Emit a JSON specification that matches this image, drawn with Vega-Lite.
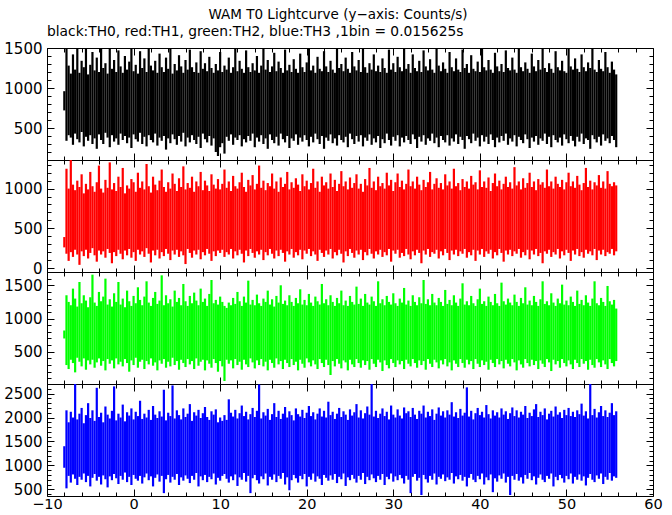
{
"$schema": "https://vega.github.io/schema/vega-lite/v6.json",
"background": "white",
"padding": {"left": 3, "top": 7, "right": 8, "bottom": 0},
"title": {"text": "WAM T0 Lightcurve (y−axis: Counts/s)", "anchor": "middle", "font": "DejaVu Sans", "fontSize": 13.5, "fontWeight": "normal", "color": "black", "offset": 4, "dx": 5},
"data": {"values": [
{"t":-8,"k0":720,"k1":960,"r0":260,"r1":390,"g0":700,"g1":820,"b0":950,"b1":1400},
{"t":-7.75,"k0":340,"k1":1500,"r0":180,"r1":1250,"g0":300,"g1":1350,"b0":520,"b1":2150},
{"t":-7.5,"k0":410,"k1":1280,"r0":90,"r1":1000,"g0":240,"g1":1250,"b0":780,"b1":1900},
{"t":-7.25,"k0":380,"k1":1180,"r0":200,"r1":1360,"g0":380,"g1":1200,"b0":640,"b1":2120},
{"t":-7,"k0":290,"k1":1420,"r0":140,"r1":1050,"g0":330,"g1":1450,"b0":810,"b1":2000},
{"t":-6.75,"k0":430,"k1":1230,"r0":230,"r1":980,"g0":190,"g1":1300,"b0":720,"b1":2700},
{"t":-6.5,"k0":360,"k1":1510,"r0":170,"r1":1100,"g0":410,"g1":1180,"b0":590,"b1":1960},
{"t":-6.25,"k0":320,"k1":1190,"r0":40,"r1":1020,"g0":350,"g1":1550,"b0":760,"b1":2080},
{"t":-6,"k0":450,"k1":1340,"r0":210,"r1":1180,"g0":280,"g1":1230,"b0":700,"b1":2200},
{"t":-5.75,"k0":270,"k1":1260,"r0":150,"r1":940,"g0":400,"g1":1350,"b0":830,"b1":1880},
{"t":-5.5,"k0":390,"k1":1500,"r0":230,"r1":1060,"g0":230,"g1":1270,"b0":650,"b1":2050},
{"t":-5.25,"k0":340,"k1":1170,"r0":120,"r1":990,"g0":370,"g1":1170,"b0":780,"b1":2300},
{"t":-5,"k0":410,"k1":1290,"r0":190,"r1":1210,"g0":310,"g1":1320,"b0":560,"b1":1990},
{"t":-4.75,"k0":300,"k1":1450,"r0":250,"r1":1030,"g0":380,"g1":1660,"b0":740,"b1":2150},
{"t":-4.5,"k0":370,"k1":1220,"r0":160,"r1":960,"g0":260,"g1":1240,"b0":820,"b1":1930},
{"t":-4.25,"k0":240,"k1":1380,"r0":80,"r1":1080,"g0":340,"g1":1190,"b0":680,"b1":2620},
{"t":-4,"k0":420,"k1":1200,"r0":220,"r1":1290,"g0":400,"g1":1400,"b0":760,"b1":2010},
{"t":-3.75,"k0":350,"k1":1500,"r0":170,"r1":1000,"g0":290,"g1":1260,"b0":600,"b1":2100},
{"t":-3.5,"k0":300,"k1":1250,"r0":210,"r1":950,"g0":360,"g1":1330,"b0":790,"b1":1900},
{"t":-3.25,"k0":440,"k1":1310,"r0":130,"r1":1110,"g0":220,"g1":1600,"b0":710,"b1":2230},
{"t":-3,"k0":380,"k1":1180,"r0":240,"r1":1010,"g0":390,"g1":1210,"b0":540,"b1":2060},
{"t":-2.75,"k0":260,"k1":1520,"r0":190,"r1":1330,"g0":320,"g1":1290,"b0":770,"b1":1980},
{"t":-2.5,"k0":410,"k1":1240,"r0":60,"r1":990,"g0":370,"g1":1180,"b0":690,"b1":2140},
{"t":-2.25,"k0":330,"k1":1350,"r0":200,"r1":1070,"g0":250,"g1":1380,"b0":820,"b1":2650},
{"t":-2,"k0":370,"k1":1200,"r0":150,"r1":970,"g0":400,"g1":1250,"b0":730,"b1":1940},
{"t":-1.75,"k0":290,"k1":1470,"r0":230,"r1":1150,"g0":310,"g1":1550,"b0":610,"b1":2080},
{"t":-1.5,"k0":430,"k1":1270,"r0":180,"r1":1020,"g0":350,"g1":1210,"b0":780,"b1":2000},
{"t":-1.25,"k0":350,"k1":1190,"r0":110,"r1":1260,"g0":280,"g1":1300,"b0":700,"b1":2270},
{"t":-1,"k0":400,"k1":1400,"r0":220,"r1":940,"g0":390,"g1":1170,"b0":850,"b1":1920},
{"t":-0.75,"k0":310,"k1":1230,"r0":160,"r1":1040,"g0":330,"g1":1420,"b0":650,"b1":2110},
{"t":-0.5,"k0":380,"k1":1330,"r0":240,"r1":1000,"g0":200,"g1":1260,"b0":760,"b1":2040},
{"t":-0.25,"k0":250,"k1":1500,"r0":130,"r1":1120,"g0":370,"g1":1190,"b0":590,"b1":2190},
{"t":0,"k0":420,"k1":1210,"r0":200,"r1":1080,"g0":300,"g1":1340,"b0":800,"b1":1960},
{"t":0.25,"k0":360,"k1":1290,"r0":90,"r1":960,"g0":410,"g1":1230,"b0":720,"b1":2120},
{"t":0.5,"k0":330,"k1":1180,"r0":230,"r1":1200,"g0":260,"g1":1470,"b0":680,"b1":2030},
{"t":0.75,"k0":440,"k1":1460,"r0":170,"r1":1010,"g0":350,"g1":1280,"b0":780,"b1":2350},
{"t":1,"k0":300,"k1":1250,"r0":210,"r1":1090,"g0":380,"g1":1200,"b0":620,"b1":1970},
{"t":1.25,"k0":390,"k1":1370,"r0":140,"r1":990,"g0":240,"g1":1330,"b0":750,"b1":2080},
{"t":1.5,"k0":270,"k1":1200,"r0":250,"r1":1310,"g0":360,"g1":1560,"b0":830,"b1":2000},
{"t":1.75,"k0":410,"k1":1500,"r0":180,"r1":1030,"g0":310,"g1":1240,"b0":690,"b1":2160},
{"t":2,"k0":350,"k1":1280,"r0":70,"r1":950,"g0":400,"g1":1190,"b0":770,"b1":1950},
{"t":2.25,"k0":320,"k1":1220,"r0":220,"r1":1150,"g0":290,"g1":1310,"b0":560,"b1":2240},
{"t":2.5,"k0":430,"k1":1340,"r0":160,"r1":1050,"g0":340,"g1":1400,"b0":740,"b1":2060},
{"t":2.75,"k0":280,"k1":1190,"r0":230,"r1":980,"g0":220,"g1":1220,"b0":810,"b1":1990},
{"t":3,"k0":380,"k1":1430,"r0":120,"r1":1100,"g0":370,"g1":1270,"b0":660,"b1":2130},
{"t":3.25,"k0":340,"k1":1260,"r0":200,"r1":1240,"g0":320,"g1":1650,"b0":780,"b1":2020},
{"t":3.5,"k0":400,"k1":1200,"r0":150,"r1":1020,"g0":390,"g1":1200,"b0":420,"b1":2580},
{"t":3.75,"k0":230,"k1":1380,"r0":240,"r1":960,"g0":260,"g1":1350,"b0":710,"b1":1940},
{"t":4,"k0":370,"k1":1240,"r0":180,"r1":1080,"g0":350,"g1":1230,"b0":800,"b1":2100},
{"t":4.25,"k0":310,"k1":1500,"r0":100,"r1":1000,"g0":280,"g1":1290,"b0":640,"b1":2030},
{"t":4.5,"k0":420,"k1":1180,"r0":220,"r1":1190,"g0":410,"g1":1180,"b0":760,"b1":2670},
{"t":4.75,"k0":360,"k1":1300,"r0":170,"r1":1060,"g0":300,"g1":1420,"b0":700,"b1":1980},
{"t":5,"k0":290,"k1":1220,"r0":230,"r1":970,"g0":360,"g1":1250,"b0":820,"b1":2150},
{"t":5.25,"k0":400,"k1":1410,"r0":140,"r1":1130,"g0":230,"g1":1310,"b0":590,"b1":2050},
{"t":5.5,"k0":330,"k1":1270,"r0":210,"r1":1020,"g0":380,"g1":1200,"b0":750,"b1":1960},
{"t":5.75,"k0":440,"k1":1190,"r0":160,"r1":1280,"g0":330,"g1":1520,"b0":680,"b1":2190},
{"t":6,"k0":270,"k1":1350,"r0":50,"r1":990,"g0":270,"g1":1260,"b0":790,"b1":2010},
{"t":6.25,"k0":380,"k1":1230,"r0":240,"r1":1070,"g0":390,"g1":1190,"b0":720,"b1":2080},
{"t":6.5,"k0":320,"k1":1480,"r0":190,"r1":1010,"g0":310,"g1":1340,"b0":630,"b1":2280},
{"t":6.75,"k0":410,"k1":1260,"r0":130,"r1":1150,"g0":360,"g1":1230,"b0":780,"b1":1930},
{"t":7,"k0":350,"k1":1200,"r0":220,"r1":960,"g0":240,"g1":1390,"b0":700,"b1":2110},
{"t":7.25,"k0":300,"k1":1320,"r0":170,"r1":1090,"g0":400,"g1":1270,"b0":840,"b1":2040},
{"t":7.5,"k0":390,"k1":1190,"r0":230,"r1":1030,"g0":290,"g1":1200,"b0":560,"b1":2160},
{"t":7.75,"k0":250,"k1":1460,"r0":110,"r1":1210,"g0":350,"g1":1450,"b0":770,"b1":1990},
{"t":8,"k0":430,"k1":1240,"r0":200,"r1":980,"g0":380,"g1":1250,"b0":690,"b1":2090},
{"t":8.25,"k0":360,"k1":1310,"r0":160,"r1":1100,"g0":220,"g1":1300,"b0":800,"b1":2220},
{"t":8.5,"k0":320,"k1":1210,"r0":240,"r1":1040,"g0":370,"g1":1190,"b0":650,"b1":2010},
{"t":8.75,"k0":400,"k1":1390,"r0":180,"r1":970,"g0":320,"g1":1370,"b0":760,"b1":1950},
{"t":9,"k0":280,"k1":1250,"r0":90,"r1":1180,"g0":260,"g1":1580,"b0":710,"b1":2130},
{"t":9.25,"k0":370,"k1":1190,"r0":210,"r1":1050,"g0":390,"g1":1230,"b0":830,"b1":2060},
{"t":9.5,"k0":200,"k1":1300,"r0":150,"r1":1000,"g0":330,"g1":1280,"b0":600,"b1":2170},
{"t":9.75,"k0":150,"k1":1220,"r0":220,"r1":1120,"g0":200,"g1":1210,"b0":740,"b1":1900},
{"t":10,"k0":260,"k1":1450,"r0":190,"r1":990,"g0":360,"g1":1330,"b0":680,"b1":2000},
{"t":10.25,"k0":310,"k1":1200,"r0":230,"r1":1060,"g0":280,"g1":1250,"b0":780,"b1":1930},
{"t":10.5,"k0":180,"k1":1280,"r0":140,"r1":1240,"g0":60,"g1":1190,"b0":820,"b1":2050},
{"t":10.75,"k0":390,"k1":1230,"r0":200,"r1":1010,"g0":380,"g1":1160,"b0":720,"b1":1950},
{"t":11,"k0":340,"k1":1380,"r0":170,"r1":1090,"g0":320,"g1":1240,"b0":640,"b1":2380},
{"t":11.25,"k0":420,"k1":1190,"r0":240,"r1":970,"g0":370,"g1":1200,"b0":770,"b1":2100},
{"t":11.5,"k0":290,"k1":1260,"r0":120,"r1":1160,"g0":250,"g1":1310,"b0":690,"b1":2020},
{"t":11.75,"k0":380,"k1":1500,"r0":210,"r1":1030,"g0":390,"g1":1220,"b0":810,"b1":2160},
{"t":12,"k0":350,"k1":1210,"r0":160,"r1":1000,"g0":300,"g1":1400,"b0":570,"b1":1980},
{"t":12.25,"k0":410,"k1":1340,"r0":230,"r1":1080,"g0":350,"g1":1260,"b0":750,"b1":2090},
{"t":12.5,"k0":270,"k1":1240,"r0":180,"r1":1200,"g0":230,"g1":1190,"b0":700,"b1":2250},
{"t":12.75,"k0":360,"k1":1190,"r0":70,"r1":1020,"g0":380,"g1":1330,"b0":840,"b1":2030},
{"t":13,"k0":320,"k1":1470,"r0":220,"r1":960,"g0":310,"g1":1240,"b0":660,"b1":2120},
{"t":13.25,"k0":400,"k1":1260,"r0":150,"r1":1110,"g0":270,"g1":1570,"b0":780,"b1":1960},
{"t":13.5,"k0":340,"k1":1200,"r0":240,"r1":1040,"g0":400,"g1":1210,"b0":420,"b1":2070},
{"t":13.75,"k0":430,"k1":1310,"r0":190,"r1":1170,"g0":340,"g1":1280,"b0":730,"b1":2200},
{"t":14,"k0":260,"k1":1220,"r0":130,"r1":990,"g0":250,"g1":1200,"b0":800,"b1":2010},
{"t":14.25,"k0":380,"k1":1400,"r0":210,"r1":1060,"g0":370,"g1":1360,"b0":690,"b1":2140},
{"t":14.5,"k0":330,"k1":1190,"r0":170,"r1":1290,"g0":300,"g1":1230,"b0":620,"b1":2690},
{"t":14.75,"k0":410,"k1":1280,"r0":230,"r1":1010,"g0":390,"g1":1190,"b0":770,"b1":1980},
{"t":15,"k0":300,"k1":1500,"r0":100,"r1":1100,"g0":280,"g1":1300,"b0":710,"b1":2110},
{"t":15.25,"k0":370,"k1":1230,"r0":200,"r1":980,"g0":350,"g1":1250,"b0":830,"b1":2040},
{"t":15.5,"k0":240,"k1":1350,"r0":160,"r1":1070,"g0":220,"g1":1420,"b0":580,"b1":2180},
{"t":15.75,"k0":420,"k1":1200,"r0":240,"r1":1030,"g0":380,"g1":1210,"b0":760,"b1":1950},
{"t":16,"k0":350,"k1":1270,"r0":180,"r1":1190,"g0":330,"g1":1290,"b0":700,"b1":2070},
{"t":16.25,"k0":310,"k1":1440,"r0":120,"r1":1000,"g0":260,"g1":1180,"b0":810,"b1":2300},
{"t":16.5,"k0":390,"k1":1210,"r0":220,"r1":1090,"g0":400,"g1":1340,"b0":650,"b1":2010},
{"t":16.75,"k0":280,"k1":1330,"r0":150,"r1":960,"g0":310,"g1":1240,"b0":780,"b1":2140},
{"t":17,"k0":430,"k1":1250,"r0":230,"r1":1140,"g0":360,"g1":1500,"b0":720,"b1":1970},
{"t":17.25,"k0":360,"k1":1190,"r0":190,"r1":1020,"g0":240,"g1":1220,"b0":840,"b1":2080},
{"t":17.5,"k0":320,"k1":1480,"r0":80,"r1":1060,"g0":380,"g1":1270,"b0":600,"b1":2220},
{"t":17.75,"k0":400,"k1":1220,"r0":210,"r1":1210,"g0":330,"g1":1200,"b0":750,"b1":2000},
{"t":18,"k0":250,"k1":1290,"r0":170,"r1":990,"g0":270,"g1":1350,"b0":480,"b1":2130},
{"t":18.25,"k0":370,"k1":1200,"r0":240,"r1":1080,"g0":390,"g1":1250,"b0":690,"b1":2050},
{"t":18.5,"k0":340,"k1":1360,"r0":130,"r1":1010,"g0":300,"g1":1190,"b0":800,"b1":1940},
{"t":18.75,"k0":420,"k1":1240,"r0":200,"r1":1130,"g0":350,"g1":1310,"b0":730,"b1":2190},
{"t":19,"k0":290,"k1":1190,"r0":160,"r1":1050,"g0":220,"g1":1230,"b0":640,"b1":2070},
{"t":19.25,"k0":380,"k1":1430,"r0":230,"r1":970,"g0":380,"g1":1440,"b0":780,"b1":2020},
{"t":19.5,"k0":330,"k1":1260,"r0":110,"r1":1180,"g0":320,"g1":1210,"b0":710,"b1":2160},
{"t":19.75,"k0":410,"k1":1200,"r0":220,"r1":1030,"g0":260,"g1":1280,"b0":820,"b1":1990},
{"t":20,"k0":350,"k1":1320,"r0":180,"r1":1100,"g0":400,"g1":1200,"b0":560,"b1":2100},
{"t":20.25,"k0":270,"k1":1500,"r0":240,"r1":990,"g0":340,"g1":1370,"b0":760,"b1":2240},
{"t":20.5,"k0":390,"k1":1220,"r0":150,"r1":1070,"g0":280,"g1":1240,"b0":700,"b1":2030},
{"t":20.75,"k0":320,"k1":1280,"r0":210,"r1":1250,"g0":370,"g1":1190,"b0":830,"b1":2110},
{"t":21,"k0":430,"k1":1190,"r0":170,"r1":1010,"g0":310,"g1":1330,"b0":660,"b1":1960},
{"t":21.25,"k0":360,"k1":1390,"r0":90,"r1":1090,"g0":240,"g1":1260,"b0":770,"b1":2080},
{"t":21.5,"k0":300,"k1":1240,"r0":230,"r1":960,"g0":390,"g1":1210,"b0":720,"b1":2190},
{"t":21.75,"k0":400,"k1":1210,"r0":190,"r1":1150,"g0":330,"g1":1520,"b0":590,"b1":2020},
{"t":22,"k0":240,"k1":1460,"r0":140,"r1":1040,"g0":270,"g1":1230,"b0":800,"b1":2140},
{"t":22.25,"k0":380,"k1":1270,"r0":220,"r1":1080,"g0":380,"g1":1290,"b0":740,"b1":2000},
{"t":22.5,"k0":340,"k1":1200,"r0":170,"r1":1000,"g0":300,"g1":1200,"b0":680,"b1":2330},
{"t":22.75,"k0":420,"k1":1340,"r0":240,"r1":1190,"g0":150,"g1":1350,"b0":790,"b1":2050},
{"t":23,"k0":310,"k1":1230,"r0":120,"r1":1020,"g0":360,"g1":1250,"b0":700,"b1":2120},
{"t":23.25,"k0":370,"k1":1190,"r0":200,"r1":1110,"g0":280,"g1":1190,"b0":820,"b1":1970},
{"t":23.5,"k0":280,"k1":1500,"r0":160,"r1":970,"g0":390,"g1":1310,"b0":630,"b1":2080},
{"t":23.75,"k0":410,"k1":1250,"r0":230,"r1":1060,"g0":320,"g1":1230,"b0":760,"b1":2200},
{"t":24,"k0":350,"k1":1300,"r0":180,"r1":1220,"g0":250,"g1":1420,"b0":710,"b1":2010},
{"t":24.25,"k0":320,"k1":1210,"r0":70,"r1":1030,"g0":370,"g1":1200,"b0":830,"b1":2130},
{"t":24.5,"k0":390,"k1":1380,"r0":210,"r1":1090,"g0":340,"g1":1270,"b0":570,"b1":2060},
{"t":24.75,"k0":260,"k1":1240,"r0":150,"r1":990,"g0":220,"g1":1190,"b0":750,"b1":1950},
{"t":25,"k0":430,"k1":1190,"r0":240,"r1":1140,"g0":380,"g1":1340,"b0":690,"b1":2170},
{"t":25.25,"k0":360,"k1":1450,"r0":190,"r1":1010,"g0":310,"g1":1250,"b0":800,"b1":2040},
{"t":25.5,"k0":300,"k1":1270,"r0":130,"r1":1070,"g0":270,"g1":1210,"b0":720,"b1":2110},
{"t":25.75,"k0":400,"k1":1220,"r0":220,"r1":1180,"g0":390,"g1":1480,"b0":640,"b1":2280},
{"t":26,"k0":330,"k1":1350,"r0":170,"r1":1000,"g0":330,"g1":1220,"b0":780,"b1":2000},
{"t":26.25,"k0":410,"k1":1200,"r0":230,"r1":1060,"g0":260,"g1":1300,"b0":700,"b1":2150},
{"t":26.5,"k0":270,"k1":1500,"r0":100,"r1":960,"g0":370,"g1":1190,"b0":840,"b1":1980},
{"t":26.75,"k0":380,"k1":1260,"r0":200,"r1":1120,"g0":300,"g1":1370,"b0":610,"b1":2090},
{"t":27,"k0":340,"k1":1190,"r0":160,"r1":1040,"g0":360,"g1":1240,"b0":760,"b1":2230},
{"t":27.25,"k0":420,"k1":1310,"r0":240,"r1":1260,"g0":230,"g1":1210,"b0":690,"b1":2060},
{"t":27.5,"k0":290,"k1":1230,"r0":180,"r1":1010,"g0":390,"g1":1330,"b0":810,"b1":2700},
{"t":27.75,"k0":370,"k1":1420,"r0":120,"r1":1090,"g0":320,"g1":1260,"b0":730,"b1":2020},
{"t":28,"k0":320,"k1":1210,"r0":210,"r1":980,"g0":270,"g1":1190,"b0":650,"b1":2140},
{"t":28.25,"k0":400,"k1":1280,"r0":170,"r1":1150,"g0":380,"g1":1560,"b0":780,"b1":1990},
{"t":28.5,"k0":250,"k1":1200,"r0":230,"r1":1030,"g0":340,"g1":1230,"b0":700,"b1":2080},
{"t":28.75,"k0":360,"k1":1370,"r0":140,"r1":1070,"g0":210,"g1":1290,"b0":820,"b1":2190},
{"t":29,"k0":310,"k1":1250,"r0":200,"r1":1000,"g0":370,"g1":1200,"b0":590,"b1":2030},
{"t":29.25,"k0":430,"k1":1190,"r0":160,"r1":1200,"g0":300,"g1":1340,"b0":760,"b1":2120},
{"t":29.5,"k0":350,"k1":1480,"r0":240,"r1":1040,"g0":250,"g1":1250,"b0":710,"b1":1960},
{"t":29.75,"k0":280,"k1":1230,"r0":80,"r1":1110,"g0":390,"g1":1210,"b0":830,"b1":2250},
{"t":30,"k0":390,"k1":1310,"r0":220,"r1":970,"g0":330,"g1":1380,"b0":660,"b1":2060},
{"t":30.25,"k0":340,"k1":1200,"r0":180,"r1":1080,"g0":270,"g1":1230,"b0":770,"b1":2000},
{"t":30.5,"k0":410,"k1":1390,"r0":230,"r1":1190,"g0":370,"g1":1190,"b0":690,"b1":2170},
{"t":30.75,"k0":270,"k1":1260,"r0":130,"r1":1020,"g0":310,"g1":1300,"b0":800,"b1":2040},
{"t":31,"k0":380,"k1":1210,"r0":190,"r1":1100,"g0":360,"g1":1240,"b0":730,"b1":1980},
{"t":31.25,"k0":320,"k1":1500,"r0":150,"r1":990,"g0":240,"g1":1460,"b0":620,"b1":2210},
{"t":31.5,"k0":400,"k1":1240,"r0":240,"r1":1060,"g0":380,"g1":1210,"b0":780,"b1":2090},
{"t":31.75,"k0":350,"k1":1300,"r0":170,"r1":1240,"g0":320,"g1":1270,"b0":700,"b1":2130},
{"t":32,"k0":300,"k1":1190,"r0":110,"r1":1030,"g0":280,"g1":1190,"b0":420,"b1":2010},
{"t":32.25,"k0":420,"k1":1420,"r0":210,"r1":1090,"g0":390,"g1":1350,"b0":760,"b1":2200},
{"t":32.5,"k0":360,"k1":1250,"r0":160,"r1":1000,"g0":330,"g1":1250,"b0":820,"b1":2060},
{"t":32.75,"k0":250,"k1":1210,"r0":230,"r1":1150,"g0":260,"g1":1200,"b0":680,"b1":1970},
{"t":33,"k0":390,"k1":1340,"r0":190,"r1":1050,"g0":370,"g1":1320,"b0":740,"b1":2140},
{"t":33.25,"k0":330,"k1":1200,"r0":60,"r1":980,"g0":300,"g1":1230,"b0":380,"b1":2080},
{"t":33.5,"k0":410,"k1":1470,"r0":220,"r1":1110,"g0":360,"g1":1580,"b0":800,"b1":2250},
{"t":33.75,"k0":290,"k1":1270,"r0":170,"r1":1020,"g0":230,"g1":1220,"b0":710,"b1":2000},
{"t":34,"k0":370,"k1":1220,"r0":240,"r1":1080,"g0":390,"g1":1290,"b0":640,"b1":2120},
{"t":34.25,"k0":340,"k1":1360,"r0":140,"r1":1210,"g0":320,"g1":1200,"b0":780,"b1":2030},
{"t":34.5,"k0":430,"k1":1230,"r0":200,"r1":990,"g0":270,"g1":1370,"b0":700,"b1":2170},
{"t":34.75,"k0":310,"k1":1190,"r0":180,"r1":1060,"g0":380,"g1":1240,"b0":830,"b1":1950},
{"t":35,"k0":380,"k1":1500,"r0":230,"r1":1130,"g0":340,"g1":1200,"b0":600,"b1":2080},
{"t":35.25,"k0":260,"k1":1280,"r0":120,"r1":1010,"g0":250,"g1":1310,"b0":760,"b1":2210},
{"t":35.5,"k0":400,"k1":1210,"r0":210,"r1":1070,"g0":370,"g1":1250,"b0":720,"b1":2040},
{"t":35.75,"k0":350,"k1":1320,"r0":160,"r1":990,"g0":310,"g1":1190,"b0":810,"b1":2130},
{"t":36,"k0":320,"k1":1240,"r0":240,"r1":1180,"g0":390,"g1":1430,"b0":670,"b1":2000},
{"t":36.25,"k0":410,"k1":1190,"r0":190,"r1":1040,"g0":280,"g1":1220,"b0":750,"b1":2150},
{"t":36.5,"k0":280,"k1":1450,"r0":100,"r1":1090,"g0":340,"g1":1280,"b0":700,"b1":2060},
{"t":36.75,"k0":370,"k1":1260,"r0":220,"r1":1000,"g0":220,"g1":1200,"b0":840,"b1":2320},
{"t":37,"k0":330,"k1":1210,"r0":170,"r1":1250,"g0":370,"g1":1350,"b0":620,"b1":2020},
{"t":37.25,"k0":420,"k1":1370,"r0":230,"r1":1030,"g0":320,"g1":1240,"b0":770,"b1":2110},
{"t":37.5,"k0":300,"k1":1230,"r0":150,"r1":1070,"g0":270,"g1":1190,"b0":710,"b1":1990},
{"t":37.75,"k0":390,"k1":1200,"r0":210,"r1":980,"g0":390,"g1":1300,"b0":800,"b1":2180},
{"t":38,"k0":350,"k1":1480,"r0":180,"r1":1120,"g0":330,"g1":1530,"b0":680,"b1":2040},
{"t":38.25,"k0":240,"k1":1250,"r0":240,"r1":1020,"g0":260,"g1":1210,"b0":760,"b1":2100},
{"t":38.5,"k0":400,"k1":1300,"r0":130,"r1":1090,"g0":380,"g1":1260,"b0":560,"b1":2630},
{"t":38.75,"k0":360,"k1":1190,"r0":200,"r1":1000,"g0":310,"g1":1200,"b0":740,"b1":2020},
{"t":39,"k0":310,"k1":1410,"r0":160,"r1":1160,"g0":360,"g1":1340,"b0":820,"b1":2140},
{"t":39.25,"k0":430,"k1":1240,"r0":230,"r1":1050,"g0":240,"g1":1230,"b0":700,"b1":1960},
{"t":39.5,"k0":340,"k1":1210,"r0":90,"r1":1080,"g0":390,"g1":1190,"b0":650,"b1":2090},
{"t":39.75,"k0":380,"k1":1330,"r0":220,"r1":990,"g0":320,"g1":1290,"b0":780,"b1":2200},
{"t":40,"k0":270,"k1":1200,"r0":170,"r1":1230,"g0":270,"g1":1450,"b0":710,"b1":2050},
{"t":40.25,"k0":410,"k1":1500,"r0":240,"r1":1020,"g0":370,"g1":1220,"b0":830,"b1":2120},
{"t":40.5,"k0":330,"k1":1260,"r0":140,"r1":1090,"g0":300,"g1":1260,"b0":600,"b1":2000},
{"t":40.75,"k0":390,"k1":1220,"r0":210,"r1":1010,"g0":350,"g1":1190,"b0":750,"b1":2260},
{"t":41,"k0":300,"k1":1350,"r0":180,"r1":1140,"g0":230,"g1":1330,"b0":690,"b1":2070},
{"t":41.25,"k0":420,"k1":1230,"r0":230,"r1":970,"g0":380,"g1":1250,"b0":810,"b1":1980},
{"t":41.5,"k0":350,"k1":1190,"r0":120,"r1":1070,"g0":330,"g1":1200,"b0":440,"b1":2150},
{"t":41.75,"k0":260,"k1":1440,"r0":200,"r1":1190,"g0":270,"g1":1370,"b0":730,"b1":2040},
{"t":42,"k0":380,"k1":1270,"r0":160,"r1":1030,"g0":390,"g1":1230,"b0":660,"b1":2110},
{"t":42.25,"k0":320,"k1":1210,"r0":240,"r1":1100,"g0":310,"g1":1190,"b0":790,"b1":2000},
{"t":42.5,"k0":400,"k1":1300,"r0":190,"r1":990,"g0":360,"g1":1540,"b0":720,"b1":2190},
{"t":42.75,"k0":340,"k1":1200,"r0":80,"r1":1060,"g0":250,"g1":1260,"b0":830,"b1":2060},
{"t":43,"k0":430,"k1":1470,"r0":220,"r1":1150,"g0":380,"g1":1210,"b0":640,"b1":2130},
{"t":43.25,"k0":290,"k1":1250,"r0":170,"r1":1020,"g0":320,"g1":1300,"b0":760,"b1":1970},
{"t":43.5,"k0":370,"k1":1220,"r0":230,"r1":1080,"g0":280,"g1":1240,"b0":380,"b1":2090},
{"t":43.75,"k0":330,"k1":1380,"r0":150,"r1":1000,"g0":390,"g1":1200,"b0":780,"b1":2210},
{"t":44,"k0":410,"k1":1230,"r0":210,"r1":1270,"g0":340,"g1":1360,"b0":700,"b1":2030},
{"t":44.25,"k0":270,"k1":1190,"r0":180,"r1":1040,"g0":220,"g1":1250,"b0":820,"b1":2150},
{"t":44.5,"k0":390,"k1":1500,"r0":240,"r1":1090,"g0":370,"g1":1190,"b0":680,"b1":2000},
{"t":44.75,"k0":350,"k1":1260,"r0":130,"r1":990,"g0":310,"g1":1310,"b0":750,"b1":2120},
{"t":45,"k0":310,"k1":1210,"r0":200,"r1":1130,"g0":260,"g1":1230,"b0":620,"b1":2060},
{"t":45.25,"k0":420,"k1":1320,"r0":160,"r1":1010,"g0":390,"g1":1470,"b0":800,"b1":2240},
{"t":45.5,"k0":360,"k1":1240,"r0":230,"r1":1070,"g0":330,"g1":1210,"b0":720,"b1":1990},
{"t":45.75,"k0":250,"k1":1190,"r0":110,"r1":1200,"g0":280,"g1":1270,"b0":840,"b1":2100},
{"t":46,"k0":380,"k1":1430,"r0":220,"r1":1020,"g0":380,"g1":1200,"b0":690,"b1":2030},
{"t":46.25,"k0":330,"k1":1270,"r0":170,"r1":1090,"g0":300,"g1":1340,"b0":770,"b1":2170},
{"t":46.5,"k0":400,"k1":1210,"r0":240,"r1":980,"g0":360,"g1":1250,"b0":600,"b1":2280},
{"t":46.75,"k0":290,"k1":1350,"r0":150,"r1":1120,"g0":240,"g1":1190,"b0":740,"b1":2010},
{"t":47,"k0":370,"k1":1230,"r0":190,"r1":1050,"g0":370,"g1":1290,"b0":810,"b1":2120},
{"t":47.25,"k0":340,"k1":1500,"r0":60,"r1":1080,"g0":320,"g1":1560,"b0":700,"b1":2050},
{"t":47.5,"k0":430,"k1":1250,"r0":210,"r1":1010,"g0":270,"g1":1220,"b0":650,"b1":2190},
{"t":47.75,"k0":300,"k1":1200,"r0":180,"r1":1240,"g0":390,"g1":1260,"b0":780,"b1":1960},
{"t":48,"k0":390,"k1":1310,"r0":230,"r1":1030,"g0":340,"g1":1200,"b0":720,"b1":2080},
{"t":48.25,"k0":260,"k1":1240,"r0":140,"r1":1090,"g0":210,"g1":1380,"b0":830,"b1":2140},
{"t":48.5,"k0":410,"k1":1190,"r0":200,"r1":1000,"g0":380,"g1":1240,"b0":560,"b1":2020},
{"t":48.75,"k0":350,"k1":1460,"r0":170,"r1":1150,"g0":310,"g1":1190,"b0":760,"b1":2230},
{"t":49,"k0":320,"k1":1260,"r0":240,"r1":1060,"g0":360,"g1":1300,"b0":690,"b1":2060},
{"t":49.25,"k0":380,"k1":1220,"r0":120,"r1":1020,"g0":260,"g1":1230,"b0":800,"b1":2110},
{"t":49.5,"k0":280,"k1":1340,"r0":210,"r1":1110,"g0":390,"g1":1510,"b0":730,"b1":1990},
{"t":49.75,"k0":420,"k1":1210,"r0":160,"r1":990,"g0":330,"g1":1210,"b0":640,"b1":2160},
{"t":50,"k0":360,"k1":1190,"r0":230,"r1":1080,"g0":280,"g1":1270,"b0":780,"b1":2050},
{"t":50.25,"k0":310,"k1":1500,"r0":190,"r1":1200,"g0":370,"g1":1200,"b0":710,"b1":2200},
{"t":50.5,"k0":400,"k1":1270,"r0":90,"r1":1030,"g0":310,"g1":1330,"b0":830,"b1":2030},
{"t":50.75,"k0":340,"k1":1230,"r0":220,"r1":1090,"g0":240,"g1":1250,"b0":620,"b1":2120},
{"t":51,"k0":270,"k1":1370,"r0":170,"r1":1010,"g0":380,"g1":1190,"b0":760,"b1":2010},
{"t":51.25,"k0":390,"k1":1240,"r0":240,"r1":1160,"g0":330,"g1":1420,"b0":700,"b1":2150},
{"t":51.5,"k0":330,"k1":1200,"r0":150,"r1":1050,"g0":270,"g1":1220,"b0":810,"b1":2070},
{"t":51.75,"k0":430,"k1":1420,"r0":200,"r1":980,"g0":390,"g1":1280,"b0":680,"b1":2290},
{"t":52,"k0":300,"k1":1260,"r0":130,"r1":1070,"g0":320,"g1":1200,"b0":770,"b1":2040},
{"t":52.25,"k0":370,"k1":1210,"r0":230,"r1":1260,"g0":360,"g1":1350,"b0":580,"b1":2130},
{"t":52.5,"k0":350,"k1":1320,"r0":180,"r1":1020,"g0":230,"g1":1240,"b0":740,"b1":1980},
{"t":52.75,"k0":240,"k1":1250,"r0":210,"r1":1100,"g0":380,"g1":1190,"b0":820,"b1":2700},
{"t":53,"k0":410,"k1":1500,"r0":160,"r1":990,"g0":300,"g1":1300,"b0":700,"b1":2050},
{"t":53.25,"k0":360,"k1":1230,"r0":240,"r1":1080,"g0":260,"g1":1560,"b0":650,"b1":2180},
{"t":53.5,"k0":320,"k1":1200,"r0":100,"r1":1040,"g0":390,"g1":1230,"b0":790,"b1":2000},
{"t":53.75,"k0":390,"k1":1350,"r0":220,"r1":1170,"g0":340,"g1":1200,"b0":720,"b1":2110},
{"t":54,"k0":280,"k1":1240,"r0":170,"r1":1010,"g0":270,"g1":1310,"b0":830,"b1":2240},
{"t":54.25,"k0":420,"k1":1210,"r0":230,"r1":1090,"g0":370,"g1":1250,"b0":610,"b1":2030},
{"t":54.5,"k0":340,"k1":1450,"r0":150,"r1":1000,"g0":310,"g1":1190,"b0":760,"b1":2150},
{"t":54.75,"k0":370,"k1":1260,"r0":200,"r1":1220,"g0":240,"g1":1490,"b0":700,"b1":2010},
{"t":55,"k0":310,"k1":1190,"r0":180,"r1":1060,"g0":390,"g1":1260,"b0":840,"b1":2100},
{"t":55.25,"k0":400,"k1":1330,"r0":240,"r1":1030,"g0":330,"g1":1210,"b0":680,"b1":2300},
{"t":55.5,"k0":350,"k1":1230,"r0":160,"r1":1080,"g0":280,"g1":1280,"b0":770,"b1":2050},
{"t":55.75,"k0":260,"k1":1170,"r0":210,"r1":1040,"g0":360,"g1":1150,"b0":740,"b1":2130}
]},
"spacing": 0,
"bounds": "flush",
"vconcat": [
{
"width": 606, "height": 112,
"title": {"text": "black:TH0, red:TH1, green:TH2, blue:TH3 ,1bin = 0.015625s", "anchor": "start", "frame": "group", "font": "DejaVu Sans", "fontSize": 13.8, "fontWeight": "normal", "color": "black", "offset": 2},
"layer": [
{"mark": {"type": "rule", "color": "#000000", "strokeWidth": 2.2, "clip": true},
 "encoding": {
  "x": {"field": "t", "type": "quantitative", "scale": {"domain": [-10, 60], "nice": false, "zero": false}, "axis": {"orient": "bottom", "title": null, "labels": false, "values": [-10,-8,-6,-4,-2,0,2,4,6,8,10,12,14,16,18,20,22,24,26,28,30,32,34,36,38,40,42,44,46,48,50,52,54,56,58,60], "tickSize": {"condition": {"test": "datum.value % 10 === 0", "value": -7}, "value": -4}}},
  "y": {"field": "k0", "type": "quantitative", "scale": {"domain": [100, 1500], "nice": false, "zero": false}, "axis": {"orient": "left", "title": null, "format": "d", "values": [100,200,300,400,500,600,700,800,900,1000,1100,1200,1300,1400,1500], "labelExpr": "datum.value % 500 === 0 ? datum.label : ''", "tickSize": {"condition": {"test": "datum.value % 500 === 0", "value": -7}, "value": -4}, "labelPadding": 12}},
  "y2": {"field": "k1"}
 }},
{"mark": {"type": "rule", "opacity": 0},
 "encoding": {
  "x": {"field": "t", "type": "quantitative", "axis": {"orient": "top", "title": null, "labels": false, "values": [-10,-8,-6,-4,-2,0,2,4,6,8,10,12,14,16,18,20,22,24,26,28,30,32,34,36,38,40,42,44,46,48,50,52,54,56,58,60], "tickSize": {"condition": {"test": "datum.value % 10 === 0", "value": -7}, "value": -4}}},
  "y": {"field": "k0", "type": "quantitative", "axis": {"orient": "right", "title": null, "labels": false, "values": [100,200,300,400,500,600,700,800,900,1000,1100,1200,1300,1400,1500], "tickSize": {"condition": {"test": "datum.value % 500 === 0", "value": -7}, "value": -4}}},
  "y2": {"field": "k1"}
 }}
],
"resolve": {"axis": {"x": "independent", "y": "independent"}}
},
{
"width": 606, "height": 112,
"layer": [
{"mark": {"type": "rule", "color": "#ff0000", "strokeWidth": 2.2, "clip": true},
 "encoding": {
  "x": {"field": "t", "type": "quantitative", "scale": {"domain": [-10, 60], "nice": false, "zero": false}, "axis": {"orient": "bottom", "title": null, "labels": false, "values": [-10,-8,-6,-4,-2,0,2,4,6,8,10,12,14,16,18,20,22,24,26,28,30,32,34,36,38,40,42,44,46,48,50,52,54,56,58,60], "tickSize": {"condition": {"test": "datum.value % 10 === 0", "value": -7}, "value": -4}}},
  "y": {"field": "r0", "type": "quantitative", "scale": {"domain": [-50, 1360], "nice": false, "zero": false}, "axis": {"orient": "left", "title": null, "format": "d", "values": [0,100,200,300,400,500,600,700,800,900,1000,1100,1200,1300], "labelExpr": "datum.value % 500 === 0 ? datum.label : ''", "tickSize": {"condition": {"test": "datum.value % 500 === 0", "value": -7}, "value": -4}, "labelPadding": 12}},
  "y2": {"field": "r1"}
 }},
{"mark": {"type": "rule", "opacity": 0},
 "encoding": {
  "x": {"field": "t", "type": "quantitative", "axis": {"orient": "top", "title": null, "labels": false, "values": [-10,-8,-6,-4,-2,0,2,4,6,8,10,12,14,16,18,20,22,24,26,28,30,32,34,36,38,40,42,44,46,48,50,52,54,56,58,60], "tickSize": {"condition": {"test": "datum.value % 10 === 0", "value": -7}, "value": -4}}},
  "y": {"field": "r0", "type": "quantitative", "axis": {"orient": "right", "title": null, "labels": false, "values": [0,100,200,300,400,500,600,700,800,900,1000,1100,1200,1300], "tickSize": {"condition": {"test": "datum.value % 500 === 0", "value": -7}, "value": -4}}},
  "y2": {"field": "r1"}
 }}
],
"resolve": {"axis": {"x": "independent", "y": "independent"}}
},
{
"width": 606, "height": 112,
"layer": [
{"mark": {"type": "rule", "color": "#00ff00", "strokeWidth": 2.2, "clip": true},
 "encoding": {
  "x": {"field": "t", "type": "quantitative", "scale": {"domain": [-10, 60], "nice": false, "zero": false}, "axis": {"orient": "bottom", "title": null, "labels": false, "values": [-10,-8,-6,-4,-2,0,2,4,6,8,10,12,14,16,18,20,22,24,26,28,30,32,34,36,38,40,42,44,46,48,50,52,54,56,58,60], "tickSize": {"condition": {"test": "datum.value % 10 === 0", "value": -7}, "value": -4}}},
  "y": {"field": "g0", "type": "quantitative", "scale": {"domain": [15, 1700], "nice": false, "zero": false}, "axis": {"orient": "left", "title": null, "format": "d", "values": [100,200,300,400,500,600,700,800,900,1000,1100,1200,1300,1400,1500,1600], "labelExpr": "datum.value % 500 === 0 ? datum.label : ''", "tickSize": {"condition": {"test": "datum.value % 500 === 0", "value": -7}, "value": -4}, "labelPadding": 12}},
  "y2": {"field": "g1"}
 }},
{"mark": {"type": "rule", "opacity": 0},
 "encoding": {
  "x": {"field": "t", "type": "quantitative", "axis": {"orient": "top", "title": null, "labels": false, "values": [-10,-8,-6,-4,-2,0,2,4,6,8,10,12,14,16,18,20,22,24,26,28,30,32,34,36,38,40,42,44,46,48,50,52,54,56,58,60], "tickSize": {"condition": {"test": "datum.value % 10 === 0", "value": -7}, "value": -4}}},
  "y": {"field": "g0", "type": "quantitative", "axis": {"orient": "right", "title": null, "labels": false, "values": [100,200,300,400,500,600,700,800,900,1000,1100,1200,1300,1400,1500,1600], "tickSize": {"condition": {"test": "datum.value % 500 === 0", "value": -7}, "value": -4}}},
  "y2": {"field": "g1"}
 }}
],
"resolve": {"axis": {"x": "independent", "y": "independent"}}
},
{
"width": 606, "height": 112,
"layer": [
{"mark": {"type": "rule", "color": "#0000ff", "strokeWidth": 2.2, "clip": true},
 "encoding": {
  "x": {"field": "t", "type": "quantitative", "scale": {"domain": [-10, 60], "nice": false, "zero": false}, "axis": {"orient": "bottom", "title": null, "labels": true, "format": "d", "values": [-10,-8,-6,-4,-2,0,2,4,6,8,10,12,14,16,18,20,22,24,26,28,30,32,34,36,38,40,42,44,46,48,50,52,54,56,58,60], "labelExpr": "datum.value % 10 === 0 ? datum.label : ''", "labelFontSize": 14.5, "tickSize": {"condition": {"test": "datum.value % 10 === 0", "value": -7}, "value": -4}, "labelPadding": 8}},
  "y": {"field": "b0", "type": "quantitative", "scale": {"domain": [360, 2700], "nice": false, "zero": false}, "axis": {"orient": "left", "title": null, "format": "d", "values": [400,500,600,700,800,900,1000,1100,1200,1300,1400,1500,1600,1700,1800,1900,2000,2100,2200,2300,2400,2500,2600], "labelExpr": "datum.value % 500 === 0 ? datum.label : ''", "tickSize": {"condition": {"test": "datum.value % 500 === 0", "value": -7}, "value": -4}, "labelPadding": 12}},
  "y2": {"field": "b1"}
 }},
{"mark": {"type": "rule", "opacity": 0},
 "encoding": {
  "x": {"field": "t", "type": "quantitative", "axis": {"orient": "top", "title": null, "labels": false, "values": [-10,-8,-6,-4,-2,0,2,4,6,8,10,12,14,16,18,20,22,24,26,28,30,32,34,36,38,40,42,44,46,48,50,52,54,56,58,60], "tickSize": {"condition": {"test": "datum.value % 10 === 0", "value": -7}, "value": -4}}},
  "y": {"field": "b0", "type": "quantitative", "axis": {"orient": "right", "title": null, "labels": false, "values": [400,500,600,700,800,900,1000,1100,1200,1300,1400,1500,1600,1700,1800,1900,2000,2100,2200,2300,2400,2500,2600], "tickSize": {"condition": {"test": "datum.value % 500 === 0", "value": -7}, "value": -4}}},
  "y2": {"field": "b1"}
 }}
],
"resolve": {"axis": {"x": "independent", "y": "independent"}}
}
],
"config": {
 "view": {"stroke": null},
 "axis": {"grid": false, "domainColor": "black", "domainWidth": 1, "tickColor": "black", "tickWidth": 1, "labelColor": "black", "labelFont": "DejaVu Sans", "labelFontSize": 15, "labelFlush": false, "labelOverlap": false}
}
}
